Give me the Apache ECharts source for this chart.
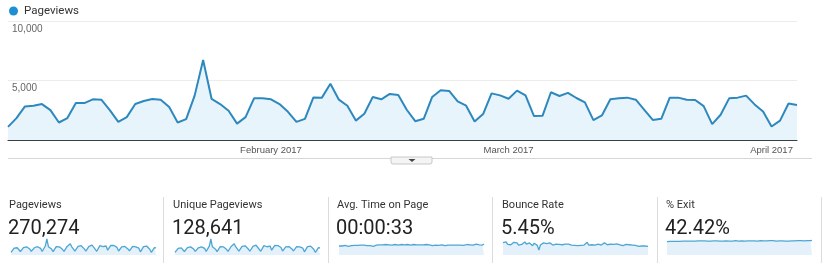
<!DOCTYPE html>
<html>
<head>
<meta charset="utf-8">
<script src="https://cdn.jsdelivr.net/npm/echarts@6/dist/echarts.min.js"></script>
<style>
html,body{margin:0;padding:0;background:#fff;}
#chart{width:828px;height:273px;}
</style>
</head>
<body>
<div id="chart"></div>
<script>
// ---- data ----
var startDate = '2017-01-01';
var dayCount = 94;
var monthTicks = { '2017-02-01': 'February 2017', '2017-03-01': 'March 2017', '2017-04-01': 'April 2017' };
var yTicks = [0, 5000, 10000];

var pageviews = [1100,1840,2820,2880,3020,2510,1470,1840,3100,3100,
 3420,3390,2510,1520,1920,3020,3280,3450,3390,2770,
 1470,1750,3730,6720,3450,3020,2460,1380,1920,3500,
 3500,3420,3020,2370,1520,1780,3580,3560,4720,3390,
 2880,1630,2200,3620,3420,3870,3790,2540,1580,1780,
 3620,4180,4120,3250,2880,1550,2180,3920,3750,3470,
 4150,3750,2010,2030,4010,3700,3960,3530,3160,1670,
 2060,3420,3500,3560,3390,2540,1690,1780,3560,3560,
 3390,3360,2850,1330,2120,3500,3560,3730,2990,2400,
 1130,1630,3070,2940];

var uniquePageviews = [520,880,1340,1370,1440,1190,700,880,1480,1470,
 1630,1610,1190,720,910,1440,1560,1640,1610,1320,
 700,830,1780,3200,1640,1440,1170,660,910,1670,
 1660,1630,1440,1130,720,850,1700,1690,2250,1610,
 1370,780,1050,1720,1630,1840,1800,1210,750,850,
 1720,1990,1960,1550,1370,740,1040,1870,1790,1650,
 1980,1790,960,970,1910,1760,1890,1680,1500,790,
 980,1630,1670,1690,1610,1210,800,850,1690,1700,
 1610,1600,1360,630,1010,1670,1690,1780,1420,1140,
 540,780,1460,1400];

var avgTimeSec = [30,31,30,31,32,31,29,32,31,32,
 32,33,32,30,33,32,33,32,31,33,
 31,28,29,32,33,32,34,33,34,33,
 35,38,34,35,33,34,35,34,33,34,
 35,32,34,33,35,34,33,34,35,32,
 34,33,34,32,34,33,35,33,34,33,
 31,34,33,34,32,33,34,33,31,34,
 33,32,33,34,33,31,33,31,33,34,
 32,33,35,33,34,30,33,34,36,32,
 34,37,33,37];

var bounceRate = [6.0,5.6,6.2,5.4,5.9,5.3,5.8,6.1,5.5,5.9,
 5.2,5.7,5.4,5.8,6.2,5.5,5.3,5.9,5.6,5.0,
 5.8,5.4,5.1,3.6,5.2,5.5,5.9,5.3,5.7,5.4,
 5.9,5.6,5.2,5.7,5.5,5.8,5.4,5.6,5.3,5.7,
 5.5,5.3,5.5,5.4,5.2,5.3,5.1,5.2,5.0,5.3,
 5.1,5.4,5.2,5.1,6.1,5.2,5.1,5.3,5.0,5.2,
 5.1,5.5,6.0,5.2,5.4,5.9,5.7,5.3,5.8,5.5,
 5.9,5.4,5.2,5.6,5.1,5.3,5.5,5.0,5.2,5.4,
 5.1,5.3,4.9,5.2,5.0,5.1,5.3,4.8,5.0,4.9,
 4.7,4.9,4.6,4.8];

var exitRate = [41.9,42.0,42.1,41.9,42.2,42.0,42.1,42.3,42.2,42.1,
 42.3,42.2,42.4,42.2,42.3,42.5,42.3,42.2,42.4,42.3,
 42.5,42.4,42.6,42.3,42.5,42.4,42.3,42.5,42.4,42.6,
 42.5,42.4,42.6,42.5,42.3,42.5,42.4,42.6,42.5,42.4,
 42.3,42.5,42.4,42.6,42.7,42.5,42.4,42.6,42.5,42.3,
 42.4,42.6,42.5,42.7,42.6,42.4,42.5,42.6,42.4,42.5,
 42.7,42.6,42.5,42.4,42.6,42.5,42.7,42.6,42.8,42.5,
 42.4,42.6,42.5,42.7,42.6,42.5,42.3,42.5,42.4,42.6,
 42.5,42.4,42.6,42.5,42.7,42.6,42.8,42.7,42.6,42.8,
 42.7,42.9,42.8,43.0];

var metricNames = ['Pageviews', 'Unique Pageviews', 'Avg. Time on Page', 'Bounce Rate', '% Exit'];
var metricTotals = ['270,274', '128,641', '00:00:33', '5.45%', '42.42%'];

// ---- categories (dates) ----
var dates = [];
(function(){
  var d = new Date(startDate + 'T00:00:00Z');
  for (var i = 0; i < dayCount; i++) {
    var c = new Date(d.getTime() + i * 86400000);
    dates.push(c.toISOString().slice(0, 10));
  }
})();

// ---- layout ----
var mainColor = '#2d88be';
var sparkColor = '#4ea6d4';
var sparkFill = '#e4f1fa';
var boxLefts = [9, 173, 337, 502, 666];
var sparkLefts = [11, 175, 339, 503, 667];
var sparkWidth = 145;
var sparkData = [pageviews, uniquePageviews, avgTimeSec, bounceRate, exitRate];
var sparkMin = [0, 0, 0, 2, 30];
var sparkMax = [7500, 3600, 60, 7.8, 46];
var separators = [163, 328, 492, 657, 821];

var grids = [{ left: 8, right: 31, top: 21, bottom: 133 }];
var xAxes = [{
  type: 'category', gridIndex: 0, data: dates, boundaryGap: false,
  axisLine: { lineStyle: { color: '#3a3f44', width: 1.2 } },
  axisTick: { show: false },
  splitLine: { show: false },
  axisLabel: {
    interval: function (i, v) { return !!monthTicks[v]; },
    formatter: function (v) { return monthTicks[v] || ''; },
    color: '#555', fontSize: 9.5, fontFamily: 'Liberation Sans, Arial, sans-serif', margin: 5
  }
}];
var yAxes = [{
  type: 'value', gridIndex: 0, min: yTicks[0], max: yTicks[yTicks.length - 1], interval: yTicks[1] - yTicks[0],
  axisLine: { show: false }, axisTick: { show: false },
  splitLine: { lineStyle: { color: '#ececec', width: 1 } },
  axisLabel: {
    inside: true, showMinLabel: false, margin: 4,
    verticalAlign: 'top', padding: [3, 0, 0, 0],
    color: '#666', fontSize: 10, fontFamily: 'Liberation Sans, Arial, sans-serif',
    formatter: function (v) { return v.toLocaleString('en-US'); }
  }
}];
var series = [{
  name: 'Pageviews', type: 'line', xAxisIndex: 0, yAxisIndex: 0,
  data: pageviews, symbol: 'none', smooth: false,
  lineStyle: { color: mainColor, width: 2 },
  itemStyle: { color: '#1e8fd0' },
  areaStyle: { color: '#e8f4fb', opacity: 1 }
}];

for (var k = 0; k < 5; k++) {
  grids.push({ left: sparkLefts[k], width: sparkWidth, top: 237, bottom: 18 });
  xAxes.push({ type: 'category', gridIndex: k + 1, data: dates, boundaryGap: false, show: false });
  yAxes.push({ type: 'value', gridIndex: k + 1, min: sparkMin[k], max: sparkMax[k], show: false, splitLine: { show: false } });
  series.push({
    name: metricNames[k] + ' trend', type: 'line', xAxisIndex: k + 1, yAxisIndex: k + 1,
    data: sparkData[k], symbol: 'none',
    lineStyle: { color: sparkColor, width: 1.3 },
    areaStyle: { color: sparkFill, opacity: 1 }
  });
}

var graphics = [
  { type: 'line', shape: { x1: 8, y1: 158.5, x2: 812, y2: 158.5 }, style: { stroke: '#d6d6d6', lineWidth: 1 } },
  { type: 'rect', shape: { x: 391, y: 157, width: 41, height: 7, r: [0, 0, 2, 2] }, style: { fill: '#f4f4f4', stroke: '#c8c8c8', lineWidth: 1 } },
  { type: 'polygon', shape: { points: [[408.5, 159], [415.5, 159], [412, 162]] }, style: { fill: '#444' } }
];
for (var s = 0; s < separators.length; s++) {
  graphics.push({ type: 'line', shape: { x1: separators[s] + 0.5, y1: 197, x2: separators[s] + 0.5, y2: 263 }, style: { stroke: '#dcdcdc', lineWidth: 1 } });
}
for (var m = 0; m < 5; m++) {
  graphics.push({ type: 'text', x: boxLefts[m], y: 205, style: { text: metricNames[m], fontSize: 11, fontFamily: 'Roboto, sans-serif', fill: '#333', verticalAlign: 'middle' } });
  graphics.push({ type: 'text', x: boxLefts[m] - 1, y: 228.5, style: { text: metricTotals[m], fontSize: 20, fontFamily: 'Roboto, sans-serif', fill: '#222', verticalAlign: 'middle' } });
}

var chart = echarts.init(document.getElementById('chart'), null, { renderer: 'canvas' });
chart.setOption({
  animation: false,
  backgroundColor: '#fff',
  legend: {
    data: ['Pageviews'], left: 9, top: 5, padding: 0, icon: 'circle', itemWidth: 9, itemHeight: 9, itemGap: 10,
    textStyle: { color: '#333', fontSize: 11.5, fontFamily: 'Roboto, sans-serif', padding: [0, 0, 0, 1] }
  },
  grid: grids,
  xAxis: xAxes,
  yAxis: yAxes,
  series: series,
  graphic: graphics
});
</script>
</body>
</html>
